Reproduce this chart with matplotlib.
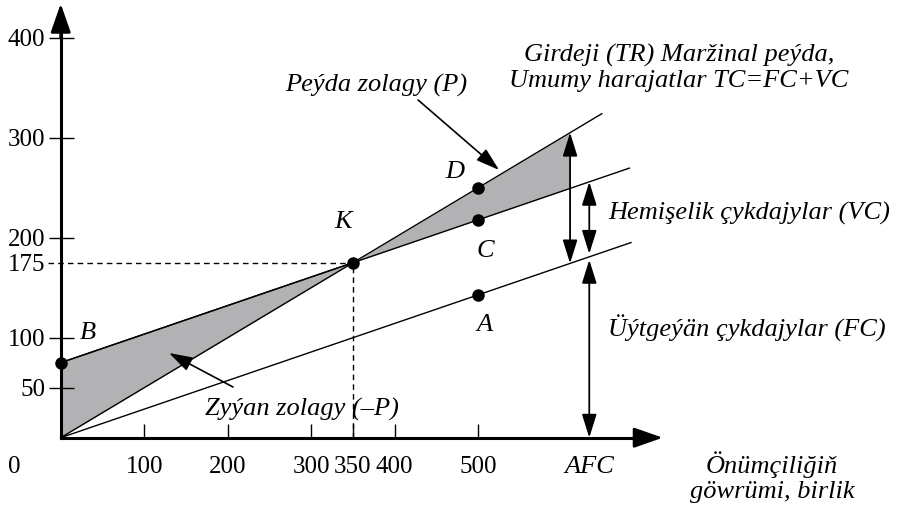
import numpy as np
import matplotlib
matplotlib.use("Agg")
import matplotlib.pyplot as plt

plt.rcParams['font.family'] = ['Liberation Serif', 'DejaVu Serif']

# chart data
fixed_cost = 75          # point B
price = 0.5              # TR slope
var_cost = 100 / 350     # slope of TC and of the lower line
q_be = 350               # K
q_pt = 500               # D, C, A
q_afc = 633
q_profit_end = 610
tr_end, tc_end, fc_end = 648, 681, 683
xticks = [100, 200, 300, 350, 400, 500]
yticks = [50, 100, 175, 200, 300, 400]

fig = plt.figure(figsize=(9.04, 5.08), dpi=100)
ax = fig.add_axes([0, 0, 1, 1])
ax.set_xlim(-72.7, 1009.9)
ax.set_ylim(-70.3, 437.7)
for s in ['top', 'right']:
    ax.spines[s].set_visible(False)
ax.spines['left'].set_position(('data', 0))
ax.spines['bottom'].set_position(('data', 0))
ax.spines['left'].set_bounds(0, 420)
ax.spines['bottom'].set_bounds(0, 705)
ax.spines['left'].set_linewidth(2.2)
ax.spines['bottom'].set_linewidth(2.2)
ax.patch.set_visible(False)

ax.set_xticks(xticks)
ax.set_yticks(yticks)
ax.tick_params(axis='x', direction='in', length=10, width=1, pad=13, labelsize=18)
ax.tick_params(axis='y', direction='inout', length=18, width=1, pad=2, labelsize=18)
ax.yaxis.get_major_ticks()[2].tick1line.set_visible(False)

# axis arrows
arr = dict(arrowstyle='-|>,head_length=0.8,head_width=0.28', color='black', lw=2,
           mutation_scale=22, shrinkA=0, shrinkB=0)
ax.annotate('', xy=(0, 434), xytext=(0, 400), arrowprops=arr)
ax.annotate('', xy=(721, 0), xytext=(690, 0), arrowprops=arr)

ax.text(-56, -29.5, '0', fontsize=18, ha='center', va='center')
ax.text(q_afc, -29.5, 'AFC', fontsize=19, style='italic', ha='center', va='center')

# lines
x_tr = np.array([0, tr_end])
x_tc = np.array([0, tc_end])
x_fc = np.array([0, fc_end])
ax.plot(x_tr, price * x_tr, color='black', lw=1)
ax.plot(x_tc, fixed_cost + var_cost * x_tc, color='black', lw=1)
ax.plot(x_fc, var_cost * x_fc, color='black', lw=1)

# loss and profit zones
loss_x = np.array([0, q_be])
ax.fill_between(loss_x, price * loss_x, fixed_cost + var_cost * loss_x,
                color='#b2b2b5', lw=0)
prof_x = np.array([q_be, q_profit_end])
ax.fill_between(prof_x, fixed_cost + var_cost * prof_x, price * prof_x,
                color='#b2b2b5', lw=0)
ax.plot([0, q_be], [fixed_cost, fixed_cost + var_cost * q_be], color='black', lw=1)

# dashed guides
k_y = price * q_be
ax.plot([-15, q_be], [k_y, k_y], color='black', lw=1, ls=(0, (4, 3)))
ax.plot([q_be, q_be], [0, k_y], color='black', lw=1, ls=(0, (4, 3)))

# points
pts_x = [0, q_be, q_pt, q_pt, q_pt]
pts_y = [fixed_cost, k_y, price * q_pt, fixed_cost + var_cost * q_pt, var_cost * q_pt]
ax.plot(pts_x, pts_y, 'o', color='black', ms=8, clip_on=False, zorder=5)

lbl = dict(fontsize=19, style='italic', ha='center', va='center')
ax.text(32.7, 104.7, 'B', **lbl)
ax.text(338, 215.7, 'K', **lbl)
ax.text(472, 265.7, 'D', **lbl)
ax.text(508, 186.7, 'C', **lbl)
ax.text(508, 112.7, 'A', **lbl)

# double arrows
dbl = dict(arrowstyle='<|-|>,head_length=0.8,head_width=0.25', color='black', lw=1.3,
           mutation_scale=18, shrinkA=0, shrinkB=0)
ax.annotate('', xy=(q_profit_end, price * q_profit_end),
            xytext=(q_profit_end, var_cost * q_profit_end), arrowprops=dbl)
ax.annotate('', xy=(q_afc, fixed_cost + var_cost * q_afc),
            xytext=(q_afc, var_cost * q_afc + 3), arrowprops=dbl)
ax.annotate('', xy=(q_afc, var_cost * q_afc - 3), xytext=(q_afc, 0), arrowprops=dbl)

# text labels with pointers
ptr = dict(arrowstyle='-|>,head_length=0.8,head_width=0.25', color='black', lw=1.2,
           mutation_scale=18, shrinkA=0, shrinkB=0)
ax.text(377.6, 352.7, 'Peýda zolagy (P)', **lbl)
ax.annotate('', xy=(525, 267.7), xytext=(428, 337.7), arrowprops=ptr)
ax.text(289, 28.7, 'Zyýan zolagy (–P)', **lbl)
ax.annotate('', xy=(129.7, 84.7), xytext=(206.3, 50.7), arrowprops=ptr)

ax.text(740.5, 369.7, 'Girdeji (TR) Maržinal peýda,\nUmumy harajatlar TC=FC+VC',
        fontsize=19, style='italic', ha='center', va='center', linespacing=1.2)
ax.text(655.5, 224.7, 'Hemişelik çykdajylar (VC)', fontsize=19, style='italic',
        ha='left', va='center')
ax.text(655.5, 109.7, 'Üýtgeýän çykdajylar (FC)', fontsize=19, style='italic',
        ha='left', va='center')
ax.text(851.7, -39.3, 'Önümçiliğiň\ngöwrümi, birlik', fontsize=19, style='italic',
        ha='center', va='center', linespacing=1.2)

fig.savefig('out.png', dpi=100)
